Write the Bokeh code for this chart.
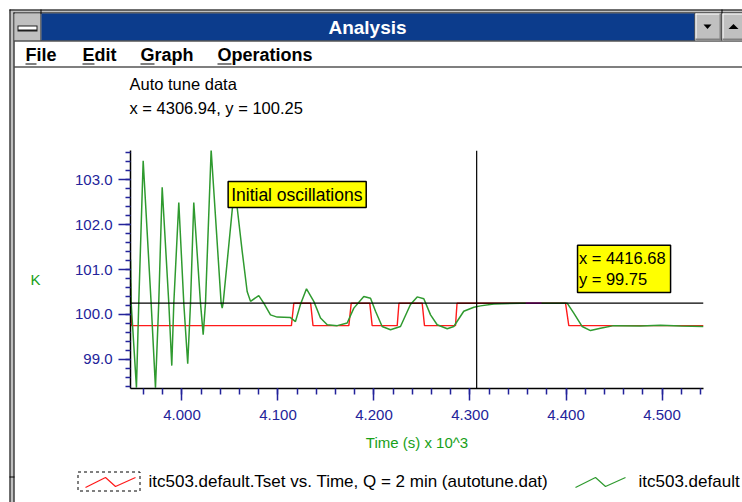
from bokeh.plotting import figure
from bokeh.models import (Range1d, SingleIntervalTicker, CustomJSTickFormatter, PrintfTickFormatter,
                          BoxAnnotation, Label, Span, GridBox)
from bokeh.core.properties import value
from bokeh.embed import file_html
from bokeh.resources import INLINE

# ---------------- data ----------------
# measured temperature (green), time in s, temperature in K
time_meas = [3946.4, 3947.1, 3952.6, 3955.0, 3959.6, 3967.9, 3972.4, 3975.8, 3979.4, 3986.3,
             3989.4, 3991.5, 3996.7, 4001.9, 4006.0, 4008.9, 4012.3, 4019.3, 4022.1, 4024.5,
             4030.4, 4040.8, 4041.9, 4042.9, 4053.6, 4057.5, 4062.7, 4067.9, 4071.4, 4080.0,
             4085.2, 4092.2, 4099.2, 4113.0, 4118.2, 4123.4, 4129.7, 4137.3, 4144.3, 4151.3,
             4161.7, 4172.1, 4179.0, 4189.4, 4196.4, 4201.6, 4208.5, 4217.2, 4227.6, 4238.0,
             4245.0, 4251.9, 4258.9, 4265.8, 4276.3, 4283.1, 4293.5, 4304.0, 4310.9, 4324.8,
             4352.6, 4401.2, 4408.1, 4416.9, 4425.5, 4435.9, 4449.8, 4477.6, 4498.4, 4519.3,
             4543.2]
temp_meas = [101.22, 100.25, 98.37, 100.25, 103.42, 100.25, 98.37, 100.25, 102.83, 100.25,
             98.86, 100.25, 102.49, 100.25, 98.90, 100.25, 102.49, 100.25, 99.55, 100.25,
             103.66, 100.25, 100.14, 100.25, 102.60, 102.38, 101.41, 100.51, 100.29, 100.42,
             100.25, 99.99, 99.94, 99.93, 99.84, 100.22, 100.57, 100.29, 99.92, 99.77,
             99.75, 99.81, 100.14, 100.40, 100.36, 100.07, 99.73, 99.66, 99.73, 100.22,
             100.39, 100.35, 99.99, 99.77, 99.68, 99.73, 100.07, 100.16, 100.19, 100.23,
             100.25, 100.25, 100.03, 99.73, 99.64, 99.69, 99.75, 99.74, 99.76, 99.74,
             99.73]

# set point (red)
time_set = [3946.4, 3947.4, 4114.0, 4116.5, 4134.0, 4136.5, 4173.8, 4176.3, 4195.6, 4198.1,
            4224.2, 4226.0, 4250.2, 4252.6, 4284.9, 4286.5, 4399.5, 4402.9, 4543.2]
temp_set = [100.70, 99.75, 99.75, 100.25, 100.25, 99.75, 99.75, 100.25, 100.25, 99.75,
            99.75, 100.25, 100.25, 99.75, 99.75, 100.25, 100.25, 99.75, 99.75]

# overlap of the cursor line with both curves (drawn in magenta by the XOR cursor)
time_overlap = [4358.0, 4374.5]
temp_overlap = [100.25, 100.25]

cursor_x, cursor_y = 4306.94, 100.25
probe_x, probe_y = 4416.68, 99.75

x_start, x_end = 3946.4, 4543.2
y_start, y_end = 98.35, 103.65

menu_items = ["File", "Edit", "Graph", "Operations"]
legend_texts = ["itc503.default.Tset vs. Time, Q = 2 min  (autotune.dat)", "itc503.default"]

W, H = 742, 502
FONT = "Liberation Sans"
NAVY = "#23239a"
GREEN_T = "#18a018"
GREEN = "#2f9a2f"
RED = "#ff1a1a"

# ---------------- background: application window (pixel coordinates) ----------------
win = figure(width=W, height=H, output_backend="svg", toolbar_location=None,
             x_range=Range1d(0, W), y_range=Range1d(H, 0),
             x_axis_type=None, y_axis_type=None,
             min_border=0, min_border_left=0, min_border_right=0,
             min_border_top=0, min_border_bottom=0)
win.frame_align = False
win.outline_line_color = None
win.grid.visible = False
win.background_fill_color = "white"
win.border_fill_color = "white"

GRAY = "#c0c0c0"
DARK = "#808080"
# (left, top, right, bottom, colour)
chrome = [
    (9, 9, 742, 13, GRAY), (9, 9, 14, 502, GRAY),
    (9, 9, 742, 10, "black"), (9, 9, 10, 502, "black"),
    (13, 12, 14, 502, "black"), (13, 12, 742, 13, "black"),
    (14, 13, 40, 40, GRAY), (40, 9, 41, 40, "black"),
    (17, 25, 37, 31, "#202020"), (18, 26, 36, 29, "white"),
    (41, 13, 694, 40, "#0c3c8c"), (14, 40, 742, 41, "black"),
    (694, 13, 695, 40, "black"), (695, 13, 721, 40, GRAY),
    (695, 13, 721, 14, "white"), (695, 13, 696, 40, "white"),
    (695, 38, 721, 40, DARK), (719, 13, 721, 40, DARK),
    (721, 9, 722, 40, "black"), (722, 13, 742, 40, GRAY),
    (722, 13, 742, 14, "white"), (722, 13, 723, 40, "white"), (722, 38, 742, 40, DARK),
    (14, 66, 742, 67, "black"), (9, 476, 14, 477, "black"),
]
win.quad(left=[c[0] for c in chrome], top=[c[1] for c in chrome],
         right=[c[2] for c in chrome], bottom=[c[3] for c in chrome],
         fill_color=[c[4] for c in chrome], line_color=None)
# scroll arrows
win.patches(xs=[[703, 711, 707], [728, 738, 733]], ys=[[24, 24, 28.5], [28.5, 28.5, 23.5]],
            fill_color="black", line_color=None)

# title + menu
win.text(x=[367], y=[26.5], text=["Analysis"], text_font=value(FONT), text_font_size=value("19px"),
         text_font_style="bold", text_color="white", text_align="center", text_baseline="middle")
menu_x = [25, 82, 140, 217]
menu_ul = [11, 12, 14, 14]
win.text(x=menu_x, y=[54] * 4, text=menu_items, text_font=value(FONT), text_font_size=value("18px"),
         text_font_style="bold", text_color="black", text_align="left", text_baseline="middle")
win.quad(left=menu_x, right=[m + w for m, w in zip(menu_x, menu_ul)], top=[63] * 4, bottom=[64] * 4,
         fill_color="black", line_color=None)

# chart header texts
win.text(x=[129, 129], y=[83, 107.5],
         text=["Auto tune data", f"x = {cursor_x:.2f}, y = {cursor_y:.2f}"],
         text_font=value(FONT), text_font_size=value("16.5px"), text_color="black",
         text_align="left", text_baseline="middle")
win.text(x=[35], y=[279], text=["K"], text_font=value(FONT), text_font_size=value("15px"),
         text_color=GREEN_T, text_align="center", text_baseline="middle")

# legend
win.quad(left=[77.5], right=[139.5], top=[471.5], bottom=[490.5], fill_alpha=0,
         line_color="black", line_width=1, line_dash="3 3")
win.line([85, 105, 115, 135], [487, 477, 486, 477], line_color=RED, line_width=1.2)
win.line([575, 595, 605, 625], [487, 477, 486, 477], line_color=GREEN, line_width=1.2)
win.text(x=[148, 638], y=[481, 481], text=legend_texts, text_font=value(FONT),
         text_font_size=value("17px"), text_color="black", text_align="left", text_baseline="middle")

# ---------------- chart (transparent, on top) ----------------
p = figure(width=W, height=H, output_backend="svg", toolbar_location=None,
           x_range=Range1d(x_start, x_end), y_range=Range1d(y_start, y_end),
           min_border_left=130, min_border_right=39, min_border_top=150, min_border_bottom=114)
p.frame_align = False
p.outline_line_color = None
p.background_fill_alpha = 0
p.border_fill_alpha = 0
p.grid.visible = False

xa = p.xaxis[0]
xa.ticker = SingleIntervalTicker(interval=100, num_minor_ticks=5)
xa.formatter = CustomJSTickFormatter(code="return (tick/1000).toFixed(3);")
xa.axis_line_color = "black"
xa.axis_line_width = 1.5
xa.major_tick_line_color = NAVY
xa.minor_tick_line_color = NAVY
xa.major_tick_line_width = 1.5
xa.minor_tick_line_width = 1.5
xa.major_tick_out = 12
xa.major_tick_in = 0
xa.minor_tick_out = 6
xa.minor_tick_in = 0
xa.major_label_standoff = 9
xa.major_label_text_font = FONT
xa.major_label_text_font_size = "15px"
xa.major_label_text_color = NAVY
xa.axis_label = "Time (s) x 10^3"
xa.axis_label_text_font = FONT
xa.axis_label_text_font_style = "normal"
xa.axis_label_text_font_size = "15px"
xa.axis_label_text_color = GREEN_T
xa.axis_label_standoff = 11

ya = p.yaxis[0]
ya.ticker = SingleIntervalTicker(interval=1, num_minor_ticks=5)
ya.formatter = PrintfTickFormatter(format="%.1f")
ya.axis_line_color = "black"
ya.axis_line_width = 1.5
ya.major_tick_line_color = NAVY
ya.minor_tick_line_color = NAVY
ya.major_tick_line_width = 1.5
ya.minor_tick_line_width = 1.5
ya.major_tick_out = 12
ya.major_tick_in = 0
ya.minor_tick_out = 5
ya.minor_tick_in = 0
ya.major_label_standoff = 6
ya.major_label_text_font = FONT
ya.major_label_text_font_size = "15px"
ya.major_label_text_color = NAVY

# curves
p.line(time_set, temp_set, line_color=RED, line_width=1.4)
p.line(time_meas, temp_meas, line_color=GREEN, line_width=1.5)
p.line(time_overlap, temp_overlap, line_color="#ff00ff", line_width=1.5)

# cursor lines
p.add_layout(Span(location=cursor_x, dimension="height", line_color="black", line_width=1.2))
p.add_layout(Span(location=cursor_y, dimension="width", line_color="black", line_width=1.2))

# annotation boxes (data units)
p.add_layout(BoxAnnotation(left=4048.1, right=4191.9, top=102.96, bottom=102.38,
                           fill_color="#ffff00", fill_alpha=1, line_color="black",
                           line_alpha=1, line_width=1.5))
p.add_layout(Label(x=4048.1, y=102.66, x_offset=3, text="Initial oscillations",
                   text_font=FONT, text_font_size="17.5px", text_color="black",
                   text_baseline="middle"))
p.add_layout(BoxAnnotation(left=4412.0, right=4508.9, top=101.54, bottom=100.49,
                           fill_color="#ffff00", fill_alpha=1, line_color="black",
                           line_alpha=1, line_width=1.5))
p.add_layout(Label(x=4413.4, y=101.25, text=f"x = {probe_x:.2f}",
                   text_font=FONT, text_font_size="16.5px", text_color="black",
                   text_baseline="middle"))
p.add_layout(Label(x=4413.4, y=100.78, text=f"y = {probe_y:.2f}",
                   text_font=FONT, text_font_size="16.5px", text_color="black",
                   text_baseline="middle"))

layout = GridBox(children=[(win, 0, 0), (p, 0, 0)], spacing=0)

open("out.html", "w").write(file_html(layout, INLINE))
